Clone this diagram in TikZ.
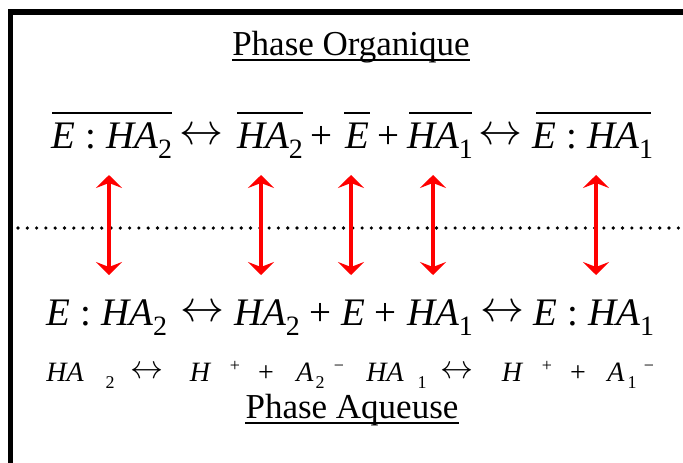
\documentclass[tikz,border=0pt]{standalone}
\usepackage{fontspec}
\setmainfont{Liberation Serif}
\usetikzlibrary{arrows.meta}
\newcommand{\sbs}[1]{\raisebox{-10pt}{\fontsize{28}{28}\selectfont\upshape #1}}
\newcommand{\ssb}[1]{\raisebox{-7pt}{\fontsize{18}{18}\selectfont\upshape #1}}
\newcommand{\ssp}[1]{\raisebox{10pt}{\fontsize{18}{18}\selectfont\upshape #1}}
\newcommand{\lra}{\raisebox{0.2ex}{\resizebox{44pt}{!}{$\leftrightarrow$}}}
\newcommand{\lrs}{\raisebox{0.2ex}{\resizebox{33pt}{!}{$\leftrightarrow$}}}
\tikzset{
  big/.style={font=\fontsize{39}{42}\selectfont\itshape, inner sep=0pt, anchor=base},
  small/.style={font=\fontsize{28}{30}\selectfont\itshape, inner sep=0pt, anchor=base},
  title/.style={font=\fontsize{35}{38}\selectfont, inner sep=0pt, anchor=base},
  bar/.style={line width=1.5pt},
  uline/.style={line width=2pt},
  redarrow/.style={red, line width=3.2pt, {Stealth[length=13pt,width=26pt,inset=5pt]}-{Stealth[length=13pt,width=26pt,inset=5pt]}},
  frame/.style={line width=5.5pt},
  sep/.style={line width=3.6pt, dash pattern=on 0pt off 9.3pt, line cap=round}
}
\begin{document}
\begin{tikzpicture}[x=1pt,y=-1pt]
\useasboundingbox (0,0) rectangle (683,463);
% frame
\coordinate (fl) at (10.5,463);
\coordinate (fc) at (10.5,12);
\coordinate (fr) at (683,12);
\draw[frame] (fl) -- (fc) -- (fr);
% titles
\node[title] (po) at (351,55) {Phase Organique};
\draw[uline] ([yshift=-5pt]po.base west) -- ([yshift=-5pt]po.base east);
\node[title] (pa) at (352,418) {Phase Aqueuse};
\draw[uline] ([yshift=-5pt]pa.base west) -- ([yshift=-5pt]pa.base east);
% organic phase equation
\node[big] (o1) at (112,148) {E \upshape:\ \itshape HA\sbs{2}};
\node[big] (o2) at (201,148) {\lra};
\node[big] (o3) at (270,148) {HA\sbs{2}};
\node[big] (o4) at (321,148) {\upshape +};
\node[big] (o5) at (357,148) {E};
\node[big] (o6) at (388,148) {\upshape +};
\node[big] (o7) at (440,148) {HA\sbs{1}};
\node[big] (o8) at (500,148) {\lra};
\node[big] (o9) at (593,148) {E \upshape:\ \itshape HA\sbs{1}};
\foreach \n/\a/\b in {o1/52/172, o3/237/303, o5/344/370, o7/409/472, o9/536/651}{
  \coordinate (\n l) at (\a,113);
  \coordinate (\n r) at (\b,113);
  \draw[bar] (\n l) -- (\n r);
}
% separator
\coordinate (s1) at (18,228);
\coordinate (s2) at (683,228);
\draw[sep] (s1) -- (s2);
% red arrows
\foreach \i/\x in {1/109,2/261,3/351,4/433,5/596}{
  \coordinate (at\i) at (\x,175);
  \coordinate (ab\i) at (\x,275);
  \draw[redarrow] (at\i) -- (ab\i);
}
% aqueous phase equation
\node[big] (a1) at (107,325) {E \upshape:\ \itshape HA\sbs{2}};
\node[big] (a2) at (202,325) {\lra};
\node[big] (a3) at (267,325) {HA\sbs{2}};
\node[big] (a4) at (320,325) {\upshape +};
\node[big] (a5) at (353,325) {E};
\node[big] (a6) at (385,325) {\upshape +};
\node[big] (a7) at (440,325) {HA\sbs{1}};
\node[big] (a8) at (502,325) {\lra};
\node[big] (a9) at (594,325) {E \upshape:\ \itshape HA\sbs{1}};
% dissociation line
\node[small] (d1) at (65,381) {HA};
\node[small] (d2) at (110,381) {\ssb{2}};
\node[small] (d3) at (147,381) {\lrs};
\node[small] (d4) at (200,381) {H};
\node[small] (d5) at (235,381) {\ssp{+}};
\node[small] (d6) at (266,381) {\upshape +};
\node[small] (d7) at (305,381) {A};
\node[small] (d8) at (320,381) {\ssb{2}};
\node[small] (d9) at (339,381) {\ssp{−}};
\node[small] (e1) at (385,381) {HA};
\node[small] (e2) at (422,381) {\ssb{1}};
\node[small] (e3) at (457,381) {\lrs};
\node[small] (e4) at (512,381) {H};
\node[small] (e5) at (547,381) {\ssp{+}};
\node[small] (e6) at (578,381) {\upshape +};
\node[small] (e7) at (616,381) {A};
\node[small] (e8) at (632,381) {\ssb{1}};
\node[small] (e9) at (649,381) {\ssp{−}};
\end{tikzpicture}
\end{document}
